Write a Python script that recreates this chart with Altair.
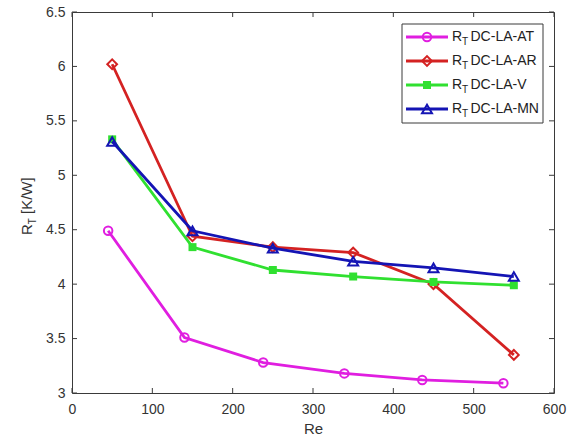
import altair as alt
import pandas as pd

# ---- data ----
re_at = [45, 140, 238, 339, 436, 537]
re_other = [50, 150, 250, 350, 450, 550]
rt_at = [4.49, 3.51, 3.28, 3.18, 3.12, 3.09]
rt_ar = [6.02, 4.44, 4.34, 4.29, 4.00, 3.35]
rt_v = [5.33, 4.34, 4.13, 4.07, 4.02, 3.99]
rt_mn = [5.31, 4.49, 4.33, 4.21, 4.15, 4.07]

series_names = ["DC-LA-AT", "DC-LA-AR", "DC-LA-V", "DC-LA-MN"]
series_colors = ["#e01ee0", "#d42222", "#30e030", "#1414b4"]
series_shapes = ["circle", "diamond", "square", "triangle-up"]
series_filled = [False, False, True, False]
series_sizes = [72, 95, 64, 100]

x_ticks = [0, 100, 200, 300, 400, 500, 600]
y_ticks = [3, 3.5, 4, 4.5, 5, 5.5, 6, 6.5]

xs_all = [re_at, re_other, re_other, re_other]
ys_all = [rt_at, rt_ar, rt_v, rt_mn]

rows = []
for name, xs, ys in zip(series_names, xs_all, ys_all):
    for i, (a, b) in enumerate(zip(xs, ys)):
        rows.append({"series": name, "Re": a, "RT": b, "order": i})
df = pd.DataFrame(rows)

W, H = 482, 381
FONT = "Liberation Sans"
TXT = "#333333"
AX = "#3a3a3a"

xscale = alt.Scale(domain=[0, 600], nice=False, zero=False)
yscale = alt.Scale(domain=[3, 6.5], nice=False, zero=False)
cscale = alt.Scale(domain=series_names, range=series_colors)

x_axis = alt.Axis(values=x_ticks, title="Re", tickSize=0, domain=False, grid=False,
                  labelPadding=9, labelFontSize=14, titleFontSize=15, titlePadding=5,
                  labelFont=FONT, titleFont=FONT, labelColor=TXT, titleColor=TXT,
                  titleFontWeight="normal", labelFlush=False)
y_axis = alt.Axis(values=y_ticks, title=None, format="~g", tickSize=0, domain=False,
                  grid=False, labelPadding=7, labelFontSize=14, labelFont=FONT,
                  labelColor=TXT, labelFlush=False)

xenc = alt.X("Re:Q", scale=xscale, axis=x_axis)
yenc = alt.Y("RT:Q", scale=yscale, axis=y_axis)

layers = []
for name, col, shp, fil, sz in zip(series_names, series_colors, series_shapes,
                                    series_filled, series_sizes):
    sub = df[df.series == name]
    line = alt.Chart(sub).mark_line(strokeWidth=2.8, color=col).encode(
        x=xenc, y=yenc, order="order:Q")
    pts = alt.Chart(sub).mark_point(shape=shp, filled=fil, size=sz, strokeWidth=2,
                                    color=col, opacity=1).encode(x=xenc, y=yenc)
    layers += [line, pts]

# inward ticks (MATLAB style box)
xt = pd.DataFrame({"Re": x_ticks})
yt = pd.DataFrame({"RT": y_ticks})
tick_style = dict(color=AX, strokeWidth=1)
layers.append(alt.Chart(xt).mark_rule(**tick_style).encode(
    x=xenc, y=alt.value(H), y2=alt.value(H - 5)))
layers.append(alt.Chart(xt).mark_rule(**tick_style).encode(
    x=xenc, y=alt.value(0), y2=alt.value(5)))
layers.append(alt.Chart(yt).mark_rule(**tick_style).encode(
    y=yenc, x=alt.value(0), x2=alt.value(5)))
layers.append(alt.Chart(yt).mark_rule(**tick_style).encode(
    y=yenc, x=alt.value(W), x2=alt.value(W - 5)))

one = pd.DataFrame({"k": [0]})

# y-axis title: R_T [K/W] (rotated)
ty0 = 223
tx0 = -40.5
layers.append(alt.Chart(one).mark_text(text="R", font=FONT, fontSize=15, angle=270,
                                       align="left", baseline="alphabetic", color=TXT)
              .encode(x=alt.value(tx0), y=alt.value(ty0)))
layers.append(alt.Chart(one).mark_text(text="T", font=FONT, fontSize=10, angle=270,
                                       align="left", baseline="alphabetic", color=TXT)
              .encode(x=alt.value(tx0 + 4), y=alt.value(ty0 - 10.8)))
layers.append(alt.Chart(one).mark_text(text="[K/W]", font=FONT, fontSize=15, angle=270,
                                       align="left", baseline="alphabetic", color=TXT)
              .encode(x=alt.value(tx0), y=alt.value(ty0 - 21)))

# legend
bx0, bx1, by0, by1 = 330, 471, 12, 111
layers.append(alt.Chart(one).mark_rect(fill="white", stroke=AX, strokeWidth=1).encode(
    x=alt.value(bx0), x2=alt.value(bx1), y=alt.value(by0), y2=alt.value(by1)))
entry_y = [25, 49, 73, 97]
for name, col, shp, fil, sz, yy in zip(series_names, series_colors, series_shapes,
                                       series_filled, series_sizes, entry_y):
    layers.append(alt.Chart(one).mark_rule(color=col, strokeWidth=2.8).encode(
        x=alt.value(334), x2=alt.value(376), y=alt.value(yy)))
    layers.append(alt.Chart(one).mark_point(shape=shp, filled=fil, size=sz, strokeWidth=2,
                                            color=col, opacity=1).encode(
        x=alt.value(355), y=alt.value(yy)))
    layers.append(alt.Chart(one).mark_text(text="R", font=FONT, fontSize=14, align="left",
                                           baseline="middle", color="#222222").encode(
        x=alt.value(380), y=alt.value(yy)))
    layers.append(alt.Chart(one).mark_text(text="T", font=FONT, fontSize=10, align="left",
                                           baseline="middle", color="#222222").encode(
        x=alt.value(390), y=alt.value(yy + 5)))
    layers.append(alt.Chart(one).mark_text(text=name, font=FONT, fontSize=14, align="left",
                                           baseline="middle", color="#222222").encode(
        x=alt.value(398.5), y=alt.value(yy)))

chart = alt.layer(*layers).properties(
    width=W, height=H,
    autosize=alt.AutoSizeParams(type="none"),
    padding={"left": 72, "top": 12, "right": 573 - 72 - W, "bottom": 441 - 12 - H},
    background="white",
).configure_view(stroke=AX, strokeWidth=1)

chart.save("out.html", embed_options={"renderer": "svg", "actions": False})
